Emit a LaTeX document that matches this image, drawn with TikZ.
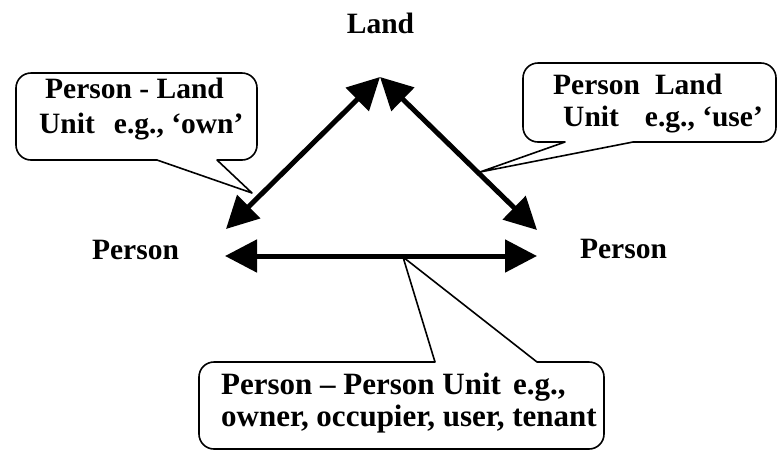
\documentclass[tikz,border=0pt]{standalone}
\usepackage{fontspec}
\setmainfont{Liberation Serif}
\usetikzlibrary{arrows.meta}
\tikzset{
  lbl/.style={font=\fontsize{29.5}{34}\selectfont\bfseries, inner sep=0pt, anchor=base west},
  lblc/.style={font=\fontsize{29.5}{34}\selectfont\bfseries, inner sep=0pt, anchor=base},
  lblbig/.style={font=\fontsize{31}{35}\selectfont\bfseries, inner sep=0pt, anchor=base west},
  callout/.style={draw=black, line width=1.6pt, fill=white, line join=round},
  bigarrow/.style={line width=5pt, {Triangle[length=32pt,width=32pt]}-{Triangle[length=32pt,width=32pt]}}
}
\begin{document}
\begin{tikzpicture}[x=1pt,y=-1pt]
\useasboundingbox (0,0) rectangle (779,451);

% main labels
\node[lblc] (land) at (380.5,33) {Land};
\node[lblc] (personL) at (135.5,259) {Person};
\node[lblc] (personR) at (623.5,258) {Person};

% arrow end points
\coordinate (top) at (380,77);
\coordinate (leftDiag) at (226,229);
\coordinate (rightDiag) at (537,230);
\coordinate (leftH) at (225,256);
\coordinate (rightH) at (537,256);

% callout tips
\coordinate (tipA) at (252,193);
\coordinate (tipB) at (480,172);
\coordinate (tipC) at (403,257);

% left callout
\draw[callout] (157,160) -- (31,160) arc(90:180:15) -- (16,88) arc(180:270:15)
  -- (242,73) arc(270:360:15) -- (257,145) arc(0:90:15) -- (217,160) -- (tipA) -- cycle;
% right callout
\draw[callout] (565,142) -- (538,142) arc(90:180:15) -- (523,78) arc(180:270:15)
  -- (761,63) arc(270:360:15) -- (776,127) arc(0:90:15) -- (633,142) -- (tipB) -- cycle;
% bottom callout
\draw[callout] (435,362) -- (214,362) arc(270:180:15) -- (199,434) arc(180:90:15)
  -- (589,449) arc(90:0:15) -- (604,377) arc(0:-90:15) -- (537,362) -- (tipC) -- cycle;

% callout texts
\node[lbl] (a1) at (45,98) {Person - Land};
\node[lbl] (a2) at (39,133) {Unit\hspace{19pt}e.g., ‘own’};
\node[lbl] (b1) at (553,94) {Person\hspace{15pt}Land};
\node[lbl] (b2) at (563,126) {Unit\hspace{26pt}e.g., ‘use’};
\node[lblbig] (c1) at (221,394) {Person – Person Unit\hspace{12pt}e.g.,};
\node[lblbig] (c2) at (221,426) {owner, occupier, user, tenant};

% arrows
\draw[bigarrow] (top) -- (leftDiag);
\draw[bigarrow] (top) -- (rightDiag);
\draw[bigarrow] (leftH) -- (rightH);
\end{tikzpicture}
\end{document}
